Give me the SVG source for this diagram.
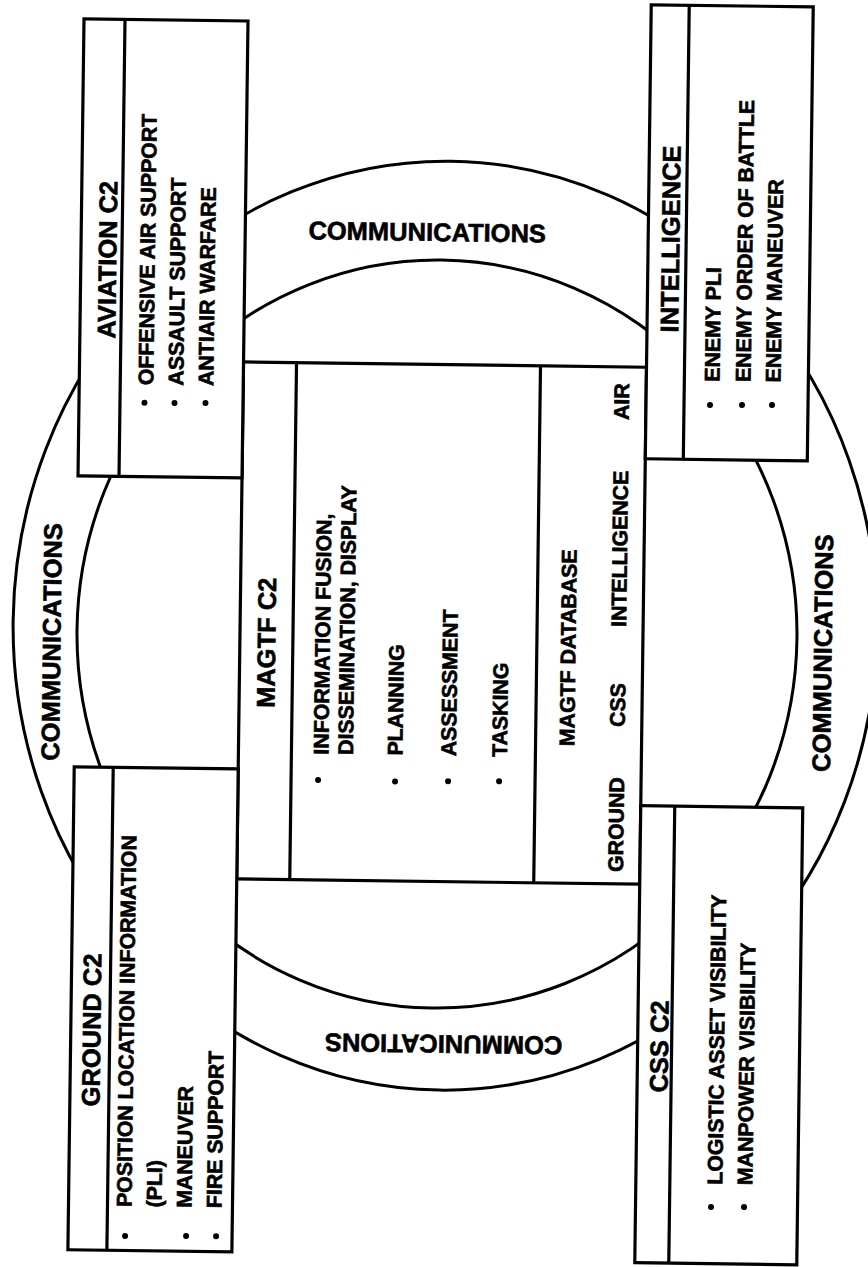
<svg xmlns="http://www.w3.org/2000/svg" width="868" height="1267" viewBox="0 0 868 1267">
<style>
.box{fill:#fff;stroke:#000;stroke-width:3.2;stroke-linejoin:miter}
.ln{fill:none;stroke:#000;stroke-width:3.2}
.ring{fill:none;stroke:#000;stroke-width:3}
.t{font-family:"Liberation Sans",Arial,Helvetica,sans-serif;font-weight:bold;fill:#000;stroke:#000;stroke-width:0.6}
.ti{font-size:25.5px}
.it{font-size:21.3px}
.mid{text-anchor:middle}
.dot{fill:#000}
</style>
<rect width="868" height="1267" fill="#fff"/>
<g transform="rotate(0.75 434 633)">
<g id="connectors">
<ellipse class="ring" cx="445" cy="625.5" rx="432" ry="464.5"/>
<ellipse class="ring" cx="437" cy="634" rx="360" ry="374"/>
<text class="t ti mid" x="422" y="241">COMMUNICATIONS</text>
<text class="t ti mid" transform="translate(60.6,647) rotate(-90)">COMMUNICATIONS</text>
<text class="t ti mid" transform="translate(831.8,648) rotate(-90)">COMMUNICATIONS</text>
<text class="t ti mid" transform="translate(449,1035) rotate(180)">COMMUNICATIONS</text>
</g>
<g id="magtf-c2">
<rect class="box" x="240" y="364.5" width="403" height="517"/>
<line class="ln" x1="293" y1="364.5" x2="293" y2="881.5"/>
<line class="ln" x1="537" y1="364.5" x2="537" y2="881.5"/>
<text class="t ti mid" transform="translate(275.5,645) rotate(-90)">MAGTF C2</text>
<text class="t it" transform="translate(330,756) rotate(-90)">INFORMATION FUSION,</text>
<text class="t it" transform="translate(354.5,756) rotate(-90)">DISSEMINATION, DISPLAY</text>
<text class="t it" transform="translate(404,756) rotate(-90)">PLANNING</text>
<text class="t it" transform="translate(457.5,756) rotate(-90)">ASSESSMENT</text>
<text class="t it" transform="translate(508.5,756) rotate(-90)">TASKING</text>
<circle class="dot" cx="320" cy="781.5" r="3"/>
<circle class="dot" cx="397" cy="782" r="3"/>
<circle class="dot" cx="450" cy="781" r="3"/>
<circle class="dot" cx="501" cy="780.5" r="3"/>
<text class="t it mid" transform="translate(575.7,646) rotate(-90)">MAGTF DATABASE</text>
<text class="t it" transform="translate(626,869.5) rotate(-90)">GROUND</text>
<text class="t it" transform="translate(626,724.5) rotate(-90)">CSS</text>
<text class="t it" transform="translate(626,624.5) rotate(-90)">INTELLIGENCE</text>
<text class="t it" transform="translate(626,417.5) rotate(-90)">AIR</text>
</g>
<g id="aviation-c2">
<rect class="box" x="76" y="23.5" width="164" height="457"/>
<line class="ln" x1="117" y1="23.5" x2="117" y2="480.5"/>
<text class="t ti mid" transform="translate(111.5,264) rotate(-90)">AVIATION C2</text>
<text class="t it" transform="translate(150,389) rotate(-90)">OFFENSIVE AIR SUPPORT</text>
<text class="t it" transform="translate(180,389) rotate(-90)">ASSAULT SUPPORT</text>
<text class="t it" transform="translate(210,389) rotate(-90)">ANTIAIR WARFARE</text>
<circle class="dot" cx="141.5" cy="406.5" r="3"/>
<circle class="dot" cx="171.5" cy="406.5" r="3"/>
<circle class="dot" cx="202.5" cy="406" r="3"/>
</g>
<g id="intelligence">
<rect class="box" x="643" y="2" width="162" height="454"/>
<line class="ln" x1="681" y1="2" x2="681" y2="456"/>
<text class="t ti mid" transform="translate(674.3,236) rotate(-90)">INTELLIGENCE</text>
<text class="t it" transform="translate(716.2,378) rotate(-90)">ENEMY PLI</text>
<text class="t it" transform="translate(747.2,378) rotate(-90)">ENEMY ORDER OF BATTLE</text>
<text class="t it" transform="translate(777.2,378) rotate(-90)">ENEMY MANEUVER</text>
<circle class="dot" cx="707" cy="401.4" r="3"/>
<circle class="dot" cx="739" cy="401" r="3"/>
<circle class="dot" cx="769" cy="400.6" r="3"/>
</g>
<g id="ground-c2">
<rect class="box" x="76" y="771.5" width="164" height="483"/>
<line class="ln" x1="115" y1="771.5" x2="115" y2="1254.5"/>
<text class="t ti mid" transform="translate(105.7,1034.4) rotate(-90)">GROUND C2</text>
<text class="t it" transform="translate(139,1211) rotate(-90)">POSITION LOCATION INFORMATION</text>
<text class="t it" transform="translate(169,1211) rotate(-90)">(PLI)</text>
<text class="t it" transform="translate(199,1211) rotate(-90)">MANEUVER</text>
<text class="t it" transform="translate(229,1211) rotate(-90)">FIRE SUPPORT</text>
<circle class="dot" cx="133" cy="1240" r="3"/>
<circle class="dot" cx="194" cy="1239.2" r="3"/>
<circle class="dot" cx="224" cy="1239" r="3"/>
</g>
<g id="css-c2">
<rect class="box" x="643" y="803" width="162" height="457"/>
<line class="ln" x1="677" y1="803" x2="677" y2="1260"/>
<text class="t ti mid" transform="translate(673.5,1043.4) rotate(-90)">CSS C2</text>
<text class="t it" transform="translate(729.5,1181) rotate(-90)">LOGISTIC ASSET VISIBILITY</text>
<text class="t it" transform="translate(759.5,1181) rotate(-90)">MANPOWER VISIBILITY</text>
<circle class="dot" cx="718.5" cy="1203.4" r="3"/>
<circle class="dot" cx="751.5" cy="1203" r="3"/>
</g>
</g>
</svg>
